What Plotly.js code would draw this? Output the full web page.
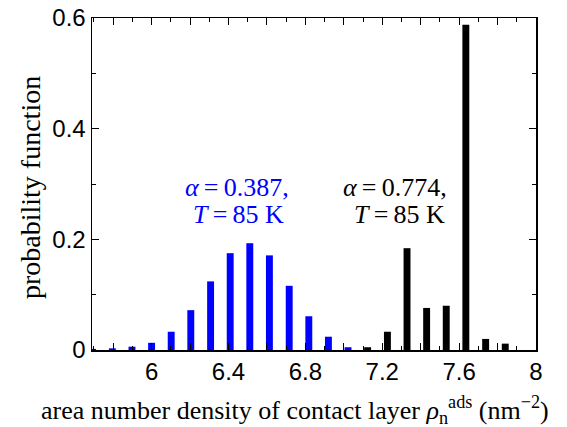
<!DOCTYPE html>
<html>
<head>
<meta charset="utf-8">
<script src="https://cdn.plot.ly/plotly-3.0.1.min.js"></script>
<style>html,body{margin:0;padding:0;background:#fff;}#chart{width:567px;height:427px;}</style>
</head>
<body>
<div id="chart"></div>
<script>
// alpha = 0.387, T = 85 K (blue)
const blueX = [5.693, 5.796, 5.898, 6.000, 6.102, 6.204, 6.307, 6.409, 6.511, 6.613, 6.716, 6.818, 6.920, 7.022];
const blueY = [0.002, 0.003, 0.006, 0.013, 0.033, 0.072, 0.124, 0.175, 0.193, 0.171, 0.116, 0.061, 0.024, 0.005];
// alpha = 0.774, T = 85 K (black)
const blackX = [7.124, 7.227, 7.329, 7.431, 7.533, 7.635, 7.738, 7.840];
const blackY = [0.005, 0.033, 0.184, 0.076, 0.080, 0.588, 0.020, 0.0115];
const xTickVals = [5.8, 6.0, 6.2, 6.4, 6.6, 6.8, 7.0, 7.2, 7.4, 7.6, 7.8, 8.0];
const xTickText = ['', '6', '', '6.4', '', '6.8', '', '7.2', '', '7.6', '', '8'];
const yTickVals = [0, 0.2, 0.4, 0.6];
const yTickText = ['0', '0.2', '0.4', '0.6'];

const barW = 0.036;
const traces = [
  {type: 'bar', x: blueX, y: blueY, width: barW, marker: {color: '#0000ff', line: {width: 0}}, hoverinfo: 'x+y'},
  {type: 'bar', x: blackX, y: blackY, width: barW, marker: {color: '#000000', line: {width: 0}}, hoverinfo: 'x+y'}
];
const W = 567, H = 427, mL = 92, mR = 31, mT = 18, mB = 77;
const tickFont = {family: 'Liberation Sans, Arial, sans-serif', size: 24, color: '#000'};
const serif = 'Liberation Serif, Times New Roman, serif';
const ts = '\u2009';
const px = (p) => (p - mL) / (W - mL - mR);
const py = (p) => (H - mB - p) / (H - mT - mB);
const layout = {
  width: W, height: H,
  margin: {l: mL, r: mR, t: mT, b: mB},
  paper_bgcolor: '#fff', plot_bgcolor: '#fff',
  showlegend: false,
  barmode: 'overlay',
  xaxis: {
    range: [5.69, 8], tickmode: 'array', tickvals: xTickVals, ticktext: xTickText,
    ticks: 'inside', ticklen: 7, tickwidth: 1, tickcolor: '#000',
    minor: {dtick: 0.1, tick0: 0, ticks: 'inside', ticklen: 4, tickcolor: '#000', tickwidth: 1},
    showline: true, linecolor: '#000', linewidth: 1.5, mirror: 'ticks',
    showgrid: false, zeroline: false, tickfont: tickFont
  },
  yaxis: {
    range: [0, 0.6], tickmode: 'array', tickvals: yTickVals, ticktext: yTickText,
    ticks: 'inside', ticklen: 7, tickwidth: 1, tickcolor: '#000',
    minor: {dtick: 0.1, tick0: 0, ticks: 'inside', ticklen: 4, tickcolor: '#000', tickwidth: 1},
    showline: true, linecolor: '#000', linewidth: 1.5, mirror: 'ticks',
    showgrid: false, zeroline: false, tickfont: tickFont
  },
  annotations: [
    {x: px(295), y: py(410), xref: 'paper', yref: 'paper', text: 'area number density of contact layer <i>ρ</i><sub>n</sub><sup>ads</sup> (nm<sup>−2</sup>)', showarrow: false,
     font: {family: serif, size: 26, color: '#000'}, xanchor: 'center', yanchor: 'middle'},
    {x: px(31), y: py(188), xref: 'paper', yref: 'paper', text: 'probability function', textangle: -90, showarrow: false,
     font: {family: serif, size: 28, color: '#000'}, xanchor: 'center', yanchor: 'middle'},
    {x: 6.445, y: 0.293, xref: 'x', yref: 'y', text: '<i>α</i>' + ts + '=' + ts + '0.387,', showarrow: false,
     font: {family: serif, size: 26, color: '#0000ff'}, xanchor: 'center', yanchor: 'middle'},
    {x: 6.45, y: 0.244, xref: 'x', yref: 'y', text: '<i>T</i>' + ts + '=' + ts + '85 K', showarrow: false,
     font: {family: serif, size: 26, color: '#0000ff'}, xanchor: 'center', yanchor: 'middle'},
    {x: 7.266, y: 0.293, xref: 'x', yref: 'y', text: '<i>α</i>' + ts + '=' + ts + '0.774,', showarrow: false,
     font: {family: serif, size: 26, color: '#000'}, xanchor: 'center', yanchor: 'middle'},
    {x: 7.29, y: 0.244, xref: 'x', yref: 'y', text: '<i>T</i>' + ts + '=' + ts + '85 K', showarrow: false,
     font: {family: serif, size: 26, color: '#000'}, xanchor: 'center', yanchor: 'middle'}
  ]
};
Plotly.newPlot('chart', traces, layout, {displayModeBar: false, staticPlot: true});
</script>
</body>
</html>
